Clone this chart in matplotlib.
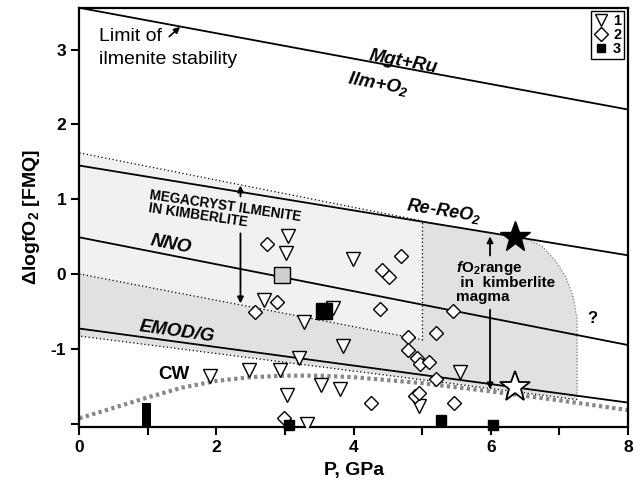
import numpy as np, matplotlib
matplotlib.use('Agg')
import matplotlib.pyplot as plt
from matplotlib.lines import Line2D

plt.rcParams.update({'font.family': ['Liberation Sans', 'DejaVu Sans'], 'font.size': 10,
                     'mathtext.fontset': 'custom', 'mathtext.default': 'regular',
                     'mathtext.it': 'Liberation Sans:italic:bold',
                     'mathtext.bf': 'Liberation Sans:bold'})

# buffer lines (P, dlogfO2)
mgt_P = [0, 8];  mgt_y = [3.56, 2.20]
rere_P = [0, 8]; rere_y = [1.45, 0.25]
nno_P = [0, 8];  nno_y = [0.49, -0.95]
emod_P = [0, 8]; emod_y = [-0.73, -1.72]
cw_P = [0, 0.5, 1, 1.5, 2, 2.5, 3, 3.5, 4, 5, 6, 7, 8]
cw_y = [-1.93, -1.79, -1.65, -1.52, -1.43, -1.38, -1.36, -1.36, -1.38, -1.46, -1.57, -1.69, -1.82]

# megacryst ilmenite field (light) and kimberlite magma field (darker)
mega_top_P = [0, 5.0];  mega_top_y = [1.62, 0.71]
mega_bot_P = [0, 5.0];  mega_bot_y = [0.0, -0.88]
kimb_P = [0, 5.0, 5.0, 6.5, 6.75, 6.95, 7.1, 7.2, 7.26, 7.26, 0]
kimb_y = [0.0, -0.88, 0.71, 0.48, 0.37, 0.17, -0.05, -0.3, -0.6, -1.68, -0.83]

# data points
t1_P = [3.05, 3.02, 3.99, 2.69, 3.28, 3.70, 3.84, 3.20, 1.91, 2.47, 2.92, 3.52, 3.80, 3.03, 3.32, 5.55, 4.96]
t1_y = [0.51, 0.28, 0.20, -0.35, -0.64, -0.45, -0.96, -1.12, -1.37, -1.28, -1.29, -1.49, -1.54, -1.62, -2.0, -1.31, -1.77]
t2_P = [2.73, 2.88, 2.56, 4.69, 4.42, 4.52, 4.39, 5.45, 5.20, 4.80, 4.80, 4.93, 4.97, 5.10, 5.20, 4.26, 4.89, 4.96, 5.47, 2.99]
t2_y = [0.40, -0.37, -0.51, 0.24, 0.05, -0.04, -0.47, -0.50, -0.79, -0.84, -1.01, -1.13, -1.20, -1.18, -1.41, -1.72, -1.63, -1.59, -1.72, -1.93]
t3_P = [3.06, 5.27, 6.03]
t3_y = [-2.02, -1.95, -2.02]
bar_P = [0.98]; bar_top = [-1.73]
gray_sq = (2.95, -0.02); black_sq = (3.57, -0.49)
star_hi = (6.35, 0.50); star_lo = (6.35, -1.51)

YMIN, YMAX = -2.04, 3.56
fig = plt.figure(figsize=(6.4, 4.88), dpi=100)
ax = fig.add_axes([0.124, 0.126, 0.857, 0.858])
ax.set_xlim(0, 8); ax.set_ylim(YMIN, YMAX)

ax.fill_between(mega_top_P, mega_bot_y, mega_top_y, color='#f1f1f1', lw=0, zorder=0)
ax.fill(kimb_P, kimb_y, color='#e1e1e1', lw=0, zorder=0)
ax.plot(mega_top_P, mega_top_y, ls=(0, (1, 2)), color='k', lw=0.9)
ax.plot(mega_bot_P, mega_bot_y, ls=(0, (1, 2)), color='k', lw=0.9)
ax.plot([5.0, 5.0], [mega_bot_y[1], mega_top_y[1]], ls=(0, (1, 2)), color='k', lw=0.9)
ax.plot([kimb_P[-2], kimb_P[-1]], [kimb_y[-2], kimb_y[-1]], ls=(0, (1, 2)), color='k', lw=0.9)
ax.plot(kimb_P[3:10], kimb_y[3:10], ls=(0, (1, 1.5)), color='#777', lw=0.9)

for P, y in [(mgt_P, mgt_y), (rere_P, rere_y), (nno_P, nno_y), (emod_P, emod_y)]:
    ax.plot(P, y, color='k', lw=1.3)
ax.plot(cw_P, cw_y, color='#888', lw=3, ls=(0, (0.8, 0.8)))

ax.bar(bar_P, [bar_top[0] - YMIN], bottom=YMIN, width=0.12, color='k', zorder=3)
ax.plot(t1_P, t1_y, 'v', ms=10, mfc='white', mec='k', mew=1, ls='none', zorder=4)
ax.plot(t2_P, t2_y, 'D', ms=7.5, mfc='white', mec='k', mew=1, ls='none', zorder=4)
ax.plot(t3_P, t3_y, 's', ms=7, color='k', ls='none', zorder=4, clip_on=False)
ax.plot(*gray_sq, 's', ms=12, mfc='#cfcfcf', mec='k', mew=1, zorder=5)
ax.plot(*black_sq, 's', ms=12, color='k', zorder=5)
ax.plot(*star_hi, '*', ms=23, color='k', zorder=5)
ax.plot(*star_lo, '*', ms=23, mfc='white', mec='k', mew=1.3, zorder=5)

ap = dict(arrowstyle='-|>', color='k', lw=1.3, mutation_scale=9)
ax.annotate('', xy=(2.35, 1.22), xytext=(2.35, 1.0), arrowprops=ap)
ax.annotate('', xy=(2.35, -0.43), xytext=(2.35, 0.58), arrowprops=ap)
ax.annotate('', xy=(5.99, 0.54), xytext=(5.99, 0.21), arrowprops=ap)
ax.annotate('', xy=(5.99, -1.58), xytext=(5.99, -0.44), arrowprops=ap)
ax.annotate('', xy=(1.50, 3.33), xytext=(1.28, 3.15),
            arrowprops=dict(arrowstyle='-|>', color='k', lw=1.2, mutation_scale=9))

ax.text(0.28, 3.17, 'Limit of', fontsize=14, va='center')
ax.text(0.28, 2.87, 'ilmenite stability', fontsize=14, va='center')
ax.text(4.72, 2.84, 'Mgt+Ru', fontsize=13.5, fontweight='bold', style='italic', rotation=-10.5, ha='center', va='center')
ax.text(4.36, 2.55, 'Ilm+O$_2$', fontsize=13.5, fontweight='bold', style='italic', rotation=-10.5, ha='center', va='center')
ax.text(5.31, 0.84, 'Re-ReO$_2$', fontsize=13, fontweight='bold', style='italic', rotation=-9, ha='center', va='center')
ax.text(1.33, 0.40, 'NNO', fontsize=13.5, fontweight='bold', style='italic', rotation=-11, ha='center', va='center')
ax.text(1.42, -0.77, 'EMOD/G', fontsize=13.5, fontweight='bold', style='italic', rotation=-8, ha='center', va='center')
ax.text(1.38, -1.34, 'CW', fontsize=13.5, fontweight='bold', ha='center', va='center')
ax.text(2.12, 0.82, 'MEGACRYST ILMENITE\nIN KIMBERLITE', fontsize=9.8, fontweight='bold',
        rotation=-8.3, ha='center', va='center', linespacing=0.85, multialignment='left')
ax.text(5.5, -0.10, '$\\mathit{f}$O$_2$range\n in  kimberlite\nmagma', fontsize=11, fontweight='bold',
        ha='left', va='center', linespacing=0.95)
ax.text(7.48, -0.6, '?', fontsize=12, fontweight='bold', ha='center', va='center')

handles = [Line2D([], [], marker='v', ms=9, mfc='white', mec='k', ls='none'),
           Line2D([], [], marker='D', ms=7, mfc='white', mec='k', ls='none'),
           Line2D([], [], marker='s', ms=6, color='k', ls='none')]
leg = ax.legend(handles, ['1', '2', '3'], loc='upper right', prop={'weight': 'bold', 'size': 10.5},
                fancybox=False, edgecolor='k', framealpha=1, borderpad=0.2, labelspacing=0.0,
                handletextpad=0.3, handlelength=1.0, borderaxespad=0.25)
leg.get_frame().set_linewidth(1.0)

ax.set_xticks(range(0, 9))
ax.set_xticklabels(['0', '', '2', '', '4', '', '6', '', '8'])
ax.set_yticks([-2, -1, 0, 1, 2, 3])
ax.set_yticklabels(['', '-1', '0', '1', '2', '3'])
ax.tick_params(direction='out', length=6, width=1.5, labelsize=12.5)
for lab in ax.get_xticklabels() + ax.get_yticklabels():
    lab.set_fontweight('bold')
for sp in ax.spines.values():
    sp.set_linewidth(1.6)
ax.set_xlabel('P, GPa', fontsize=14, fontweight='bold', labelpad=5)
ax.set_ylabel('ΔlogfO$_2$ [FMQ]', fontsize=14, fontweight='bold', labelpad=6)

fig.savefig('out.png', dpi=100)
